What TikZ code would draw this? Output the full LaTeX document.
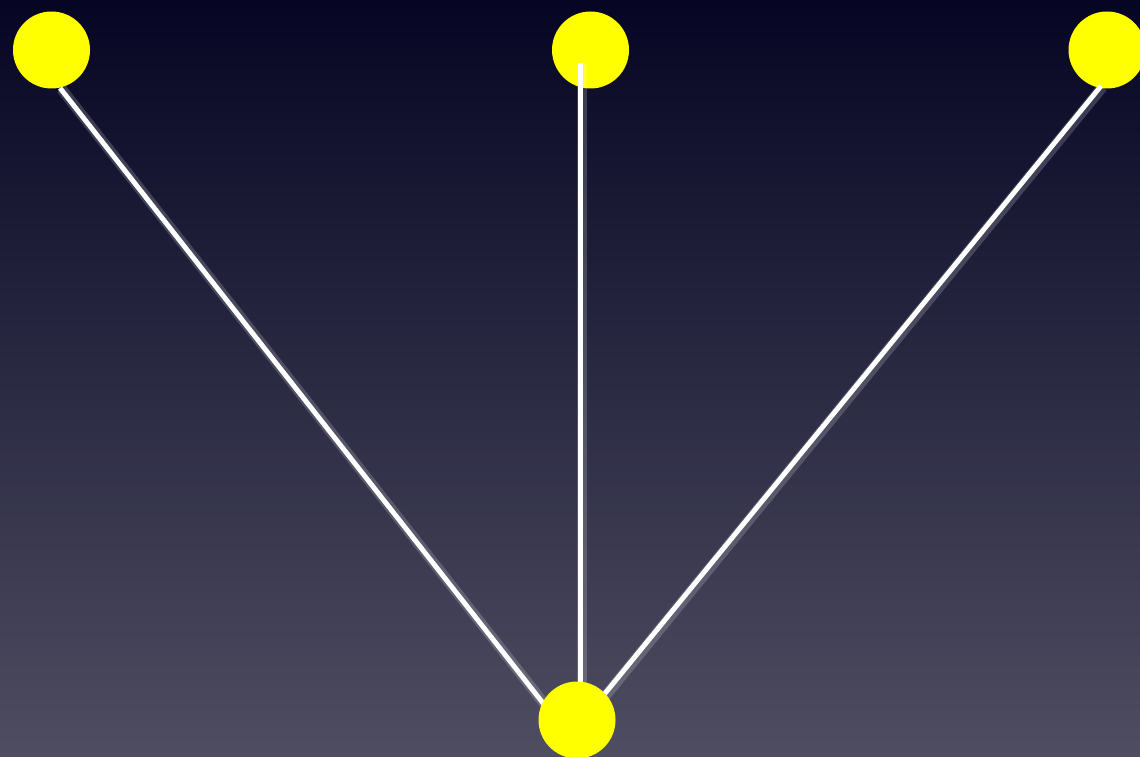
\documentclass[tikz,border=0pt]{standalone}
\usepackage{xcolor}
\usepackage{tikz}
\usetikzlibrary{positioning,calc}

\definecolor{skytop}{RGB}{6,6,36}
\definecolor{skybot}{RGB}{78,77,97}
\definecolor{dotyellow}{RGB}{255,255,0}

\begin{document}
\begin{tikzpicture}[x=0.1mm,y=-0.1mm,
  dot/.style={circle,fill=dotyellow,draw=none,inner sep=0pt,minimum size=7.7mm},
  link/.style={white,line width=1.4pt},
  glow/.style={white,opacity=0.18,line width=3pt}]
\shade[top color=skytop,bottom color=skybot] (0,0) rectangle (1140,756);
\useasboundingbox (0,0) rectangle (1140,756);
\clip (0,0) rectangle (1140,756);
% leaves on top
\node[dot] (tl) at (51.5,50) {};
\node[dot] (tm) at (590.5,50) {};
\node[dot] (tr) at (1107,50) {};
% line ends
\coordinate (la) at (60,88);    \coordinate (lb) at (550,712);
\coordinate (ma) at (580.5,63); \coordinate (mb) at (580.5,705);
\coordinate (ra) at (1101,86);  \coordinate (rb) at (598,702);
\foreach \a/\b in {la/lb,ma/mb,ra/rb} {
  \draw[glow] ($(\a)+(1.5,1)$) -- ($(\b)+(1.5,1)$);
  \draw[link] (\a) -- (\b);
}
% root
\node[dot] (root) at (577,720) {};
\end{tikzpicture}
\end{document}
